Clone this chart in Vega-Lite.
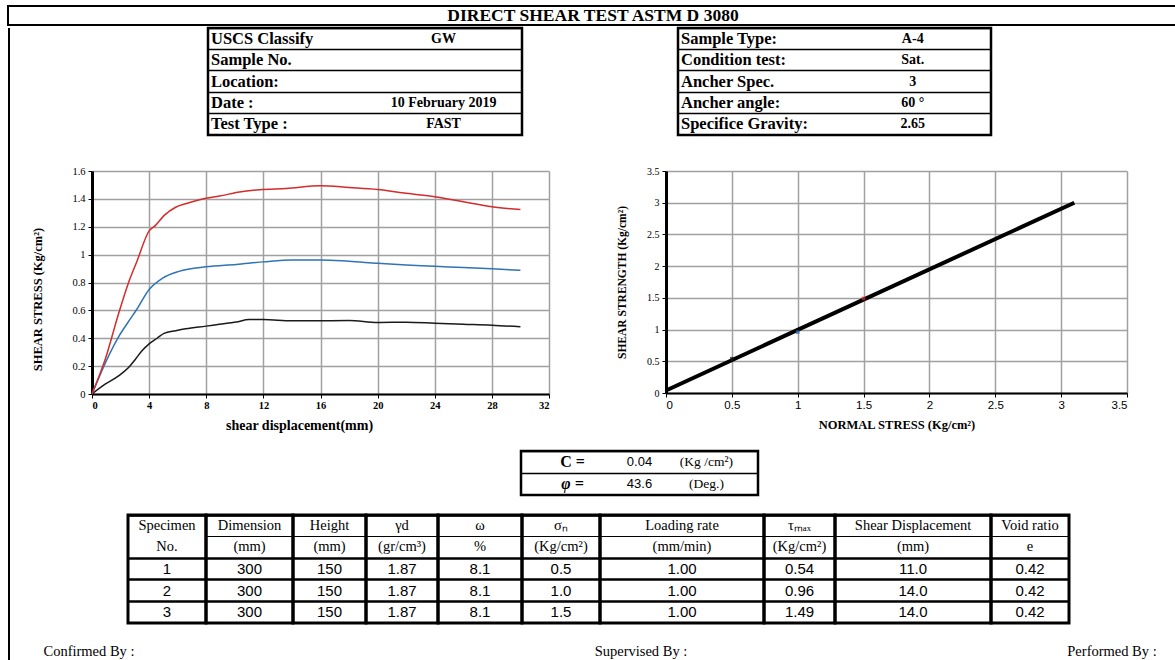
{
"$schema": "https://vega.github.io/schema/vega-lite/v6.json",
"padding": {"left": 7, "top": 5, "right": 0, "bottom": 0},
"background": "white",
"bounds": "full",
"config": {
  "view": {"stroke": null},
  "concat": {"spacing": 0},
  "scale": {"bandPaddingInner": 0, "bandPaddingOuter": 0}
},
"datasets": {
  "curves": [
    {"sn": "0.5", "d": 0, "s": 0}, {"sn": "0.5", "d": 0.92, "s": 0.07}, {"sn": "0.5", "d": 1.86, "s": 0.13}, {"sn": "0.5", "d": 2.56, "s": 0.19}, {"sn": "0.5", "d": 3.04, "s": 0.25}, {"sn": "0.5", "d": 3.5, "s": 0.31}, {"sn": "0.5", "d": 4.0, "s": 0.36}, {"sn": "0.5", "d": 4.56, "s": 0.40}, {"sn": "0.5", "d": 5.04, "s": 0.435}, {"sn": "0.5", "d": 5.86, "s": 0.454}, {"sn": "0.5", "d": 6.56, "s": 0.468}, {"sn": "0.5", "d": 7.98, "s": 0.487}, {"sn": "0.5", "d": 8.92, "s": 0.50}, {"sn": "0.5", "d": 10.1, "s": 0.516}, {"sn": "0.5", "d": 11, "s": 0.534}, {"sn": "0.5", "d": 12, "s": 0.534}, {"sn": "0.5", "d": 14, "s": 0.525}, {"sn": "0.5", "d": 16, "s": 0.526}, {"sn": "0.5", "d": 18, "s": 0.527}, {"sn": "0.5", "d": 20, "s": 0.513}, {"sn": "0.5", "d": 22, "s": 0.515}, {"sn": "0.5", "d": 24, "s": 0.508}, {"sn": "0.5", "d": 26, "s": 0.501}, {"sn": "0.5", "d": 28, "s": 0.494}, {"sn": "0.5", "d": 30, "s": 0.482},
    {"sn": "1.0", "d": 0, "s": 0}, {"sn": "1.0", "d": 1.15, "s": 0.27}, {"sn": "1.0", "d": 1.86, "s": 0.41}, {"sn": "1.0", "d": 2.56, "s": 0.52}, {"sn": "1.0", "d": 3.15, "s": 0.61}, {"sn": "1.0", "d": 4.0, "s": 0.75}, {"sn": "1.0", "d": 4.92, "s": 0.83}, {"sn": "1.0", "d": 6.09, "s": 0.88}, {"sn": "1.0", "d": 7.98, "s": 0.913}, {"sn": "1.0", "d": 10.1, "s": 0.93}, {"sn": "1.0", "d": 12, "s": 0.948}, {"sn": "1.0", "d": 14, "s": 0.962}, {"sn": "1.0", "d": 16, "s": 0.962}, {"sn": "1.0", "d": 18, "s": 0.952}, {"sn": "1.0", "d": 20, "s": 0.938}, {"sn": "1.0", "d": 22, "s": 0.926}, {"sn": "1.0", "d": 24, "s": 0.917}, {"sn": "1.0", "d": 26, "s": 0.907}, {"sn": "1.0", "d": 28, "s": 0.898}, {"sn": "1.0", "d": 30, "s": 0.888},
    {"sn": "1.5", "d": 0, "s": 0}, {"sn": "1.5", "d": 0.92, "s": 0.247}, {"sn": "1.5", "d": 1.86, "s": 0.576}, {"sn": "1.5", "d": 2.52, "s": 0.788}, {"sn": "1.5", "d": 3.15, "s": 0.953}, {"sn": "1.5", "d": 4.0, "s": 1.17}, {"sn": "1.5", "d": 4.45, "s": 1.21}, {"sn": "1.5", "d": 5.04, "s": 1.28}, {"sn": "1.5", "d": 5.86, "s": 1.34}, {"sn": "1.5", "d": 6.56, "s": 1.365}, {"sn": "1.5", "d": 7.98, "s": 1.405}, {"sn": "1.5", "d": 8.92, "s": 1.42}, {"sn": "1.5", "d": 10.33, "s": 1.45}, {"sn": "1.5", "d": 11.74, "s": 1.466}, {"sn": "1.5", "d": 13.6, "s": 1.475}, {"sn": "1.5", "d": 16, "s": 1.494}, {"sn": "1.5", "d": 18, "s": 1.482}, {"sn": "1.5", "d": 20, "s": 1.468}, {"sn": "1.5", "d": 22, "s": 1.44}, {"sn": "1.5", "d": 24, "s": 1.416}, {"sn": "1.5", "d": 26, "s": 1.38}, {"sn": "1.5", "d": 28, "s": 1.344}, {"sn": "1.5", "d": 30, "s": 1.323}
  ],
  "fit": [{"n": 0, "t": 0.04}, {"n": 3.1, "t": 3.0}],
  "pts": [{"sn": "0.5", "n": 0.5, "t": 0.54}, {"sn": "1.0", "n": 1.0, "t": 0.96}, {"sn": "1.5", "n": 1.5, "t": 1.49}],
  "infoL": [{"r": 1, "k": "USCS Classify", "v": "GW"}, {"r": 2, "k": "Sample No.", "v": ""}, {"r": 3, "k": "Location:", "v": ""}, {"r": 4, "k": "Date :", "v": "10 February 2019"}, {"r": 5, "k": "Test Type :", "v": "FAST"}],
  "infoR": [{"r": 1, "k": "Sample Type:", "v": "A-4"}, {"r": 2, "k": "Condition test:", "v": "Sat."}, {"r": 3, "k": "Ancher Spec.", "v": "3"}, {"r": 4, "k": "Ancher angle:", "v": "60 °"}, {"r": 5, "k": "Specifice Gravity:", "v": "2.65"}],
  "cphi": [{"r": 1, "sym": "C =", "val": "0.04", "unit": "(Kg /cm²)"}, {"r": 2, "sym": "φ =", "val": "43.6", "unit": "(Deg.)"}],
  "spec": [
    {"c": 1, "r": 1, "t": "Specimen"}, {"c": 1, "r": 2, "t": "No."}, {"c": 1, "r": 3, "t": "1"}, {"c": 1, "r": 4, "t": "2"}, {"c": 1, "r": 5, "t": "3"},
    {"c": 2, "r": 1, "t": "Dimension"}, {"c": 2, "r": 2, "t": "(mm)"}, {"c": 2, "r": 3, "t": "300"}, {"c": 2, "r": 4, "t": "300"}, {"c": 2, "r": 5, "t": "300"},
    {"c": 3, "r": 1, "t": "Height"}, {"c": 3, "r": 2, "t": "(mm)"}, {"c": 3, "r": 3, "t": "150"}, {"c": 3, "r": 4, "t": "150"}, {"c": 3, "r": 5, "t": "150"},
    {"c": 4, "r": 1, "t": "γd"}, {"c": 4, "r": 2, "t": "(gr/cm³)"}, {"c": 4, "r": 3, "t": "1.87"}, {"c": 4, "r": 4, "t": "1.87"}, {"c": 4, "r": 5, "t": "1.87"},
    {"c": 5, "r": 1, "t": "ω"}, {"c": 5, "r": 2, "t": "%"}, {"c": 5, "r": 3, "t": "8.1"}, {"c": 5, "r": 4, "t": "8.1"}, {"c": 5, "r": 5, "t": "8.1"},
    {"c": 6, "r": 1, "t": "σₙ"}, {"c": 6, "r": 2, "t": "(Kg/cm²)"}, {"c": 6, "r": 3, "t": "0.5"}, {"c": 6, "r": 4, "t": "1.0"}, {"c": 6, "r": 5, "t": "1.5"},
    {"c": 7, "r": 1, "t": "Loading rate"}, {"c": 7, "r": 2, "t": "(mm/min)"}, {"c": 7, "r": 3, "t": "1.00"}, {"c": 7, "r": 4, "t": "1.00"}, {"c": 7, "r": 5, "t": "1.00"},
    {"c": 8, "r": 1, "t": "τₘₐₓ"}, {"c": 8, "r": 2, "t": "(Kg/cm²)"}, {"c": 8, "r": 3, "t": "0.54"}, {"c": 8, "r": 4, "t": "0.96"}, {"c": 8, "r": 5, "t": "1.49"},
    {"c": 9, "r": 1, "t": "Shear Displacement"}, {"c": 9, "r": 2, "t": "(mm)"}, {"c": 9, "r": 3, "t": "11.0"}, {"c": 9, "r": 4, "t": "14.0"}, {"c": 9, "r": 5, "t": "14.0"},
    {"c": 10, "r": 1, "t": "Void ratio"}, {"c": 10, "r": 2, "t": "e"}, {"c": 10, "r": 3, "t": "0.42"}, {"c": 10, "r": 4, "t": "0.42"}, {"c": 10, "r": 5, "t": "0.42"}
  ]
},
"vconcat": [
  {"width": 1170, "height": 19, "view": {"stroke": "black", "strokeWidth": 2}, "data": {"values": [{"t": "DIRECT SHEAR TEST ASTM D 3080"}]}, "mark": {"type": "text", "font": "Liberation Serif", "fontWeight": "bold", "fontSize": 17.5}, "encoding": {"text": {"field": "t"}}},
  {"bounds": "full", "hconcat": [
    {"width": 2, "height": 640, "view": {"fill": "black", "stroke": null}, "data": {"values": []}, "mark": "point"},
    {"bounds": "full", "vconcat": [
      {"bounds": "flush", "hconcat": [
        {"width": 198, "height": 1, "data": {"values": []}, "mark": "point"},
        {"width": 314, "height": 107, "view": {"stroke": "black", "strokeWidth": 2.5}, "data": {"name": "infoL"},
         "encoding": {"y": {"field": "r", "type": "ordinal", "title": null, "scale": {"type": "band"}, "axis": {"labels": false, "ticks": false, "domain": false, "grid": true, "gridColor": "black", "gridWidth": 1.5, "bandPosition": 0}}},
         "layer": [
           {"mark": {"type": "text", "font": "Liberation Serif", "fontWeight": "bold", "fontSize": 16.5, "align": "left", "dx": 3}, "encoding": {"x": {"datum": "L", "type": "nominal", "scale": {"type": "band", "domain": ["L", "V"]}, "bandPosition": 0, "axis": null}, "text": {"field": "k"}}},
           {"mark": {"type": "text", "font": "Liberation Serif", "fontWeight": "bold", "fontSize": 14}, "encoding": {"x": {"datum": "V", "type": "nominal", "scale": {"type": "band", "domain": ["L", "V"]}, "axis": null}, "text": {"field": "v"}}}
         ]},
        {"width": 156, "height": 1, "data": {"values": []}, "mark": "point"},
        {"width": 313, "height": 107, "view": {"stroke": "black", "strokeWidth": 2.5}, "data": {"name": "infoR"},
         "encoding": {"y": {"field": "r", "type": "ordinal", "title": null, "scale": {"type": "band"}, "axis": {"labels": false, "ticks": false, "domain": false, "grid": true, "gridColor": "black", "gridWidth": 1.5, "bandPosition": 0}}},
         "layer": [
           {"mark": {"type": "text", "font": "Liberation Serif", "fontWeight": "bold", "fontSize": 16.5, "align": "left", "dx": 3}, "encoding": {"x": {"datum": "L", "type": "nominal", "scale": {"type": "band", "domain": ["L", "V"]}, "bandPosition": 0, "axis": null}, "text": {"field": "k"}}},
           {"mark": {"type": "text", "font": "Liberation Serif", "fontWeight": "bold", "fontSize": 14}, "encoding": {"x": {"datum": "V", "type": "nominal", "scale": {"type": "band", "domain": ["L", "V"]}, "axis": null}, "text": {"field": "v"}}}
         ]}
      ]},
      {"width": 1, "height": 29, "data": {"values": []}, "mark": "point"},
      {"bounds": "flush", "hconcat": [
        {"width": 82, "height": 1, "data": {"values": []}, "mark": "point"},
        {"width": 457, "height": 223, "data": {"name": "curves"},
         "mark": {"type": "line", "strokeWidth": 1.5, "interpolate": "monotone"},
         "encoding": {
           "x": {"field": "d", "type": "quantitative", "scale": {"domain": [0, 32], "nice": false},
                 "axis": {"values": [0, 4, 8, 12, 16, 20, 24, 28, 32], "title": "shear displacement(mm)", "titleFont": "Liberation Serif", "titleFontWeight": "bold", "titleFontSize": 14, "titlePadding": 8, "titleX": 207, "labelFont": "Liberation Serif", "labelFontSize": 10.5, "labelFontWeight": "bold", "labelColor": "black", "grid": true, "gridColor": "#a0a0a0", "gridWidth": 1.5, "domainColor": "black", "domainWidth": 2, "tickColor": "black", "tickSize": 4, "labelPadding": 2}},
           "y": {"field": "s", "type": "quantitative", "scale": {"domain": [0, 1.6], "nice": false},
                 "axis": {"values": [0, 0.2, 0.4, 0.6, 0.8, 1, 1.2, 1.4, 1.6], "format": "~g", "title": "SHEAR STRESS   (Kg/cm²)", "titleFont": "Liberation Serif", "titleFontWeight": "bold", "titleFontSize": 12.5, "titlePadding": 27, "titleY": 128, "labelFont": "Liberation Serif", "labelFontSize": 10.5, "labelColor": "black", "grid": true, "gridColor": "#a0a0a0", "gridWidth": 1.5, "domainColor": "black", "domainWidth": 3, "tickColor": "black", "tickSize": 4, "labelPadding": 3}},
           "color": {"field": "sn", "type": "nominal", "scale": {"domain": ["0.5", "1.0", "1.5"], "range": ["#1a1a1a", "#2f74b5", "#d42b2b"]}, "legend": null}
         }},
        {"width": 117, "height": 1, "data": {"values": []}, "mark": "point"},
        {"width": 461, "height": 222,
         "encoding": {
           "x": {"field": "n", "type": "quantitative", "scale": {"domain": [0, 3.5], "nice": false},
                 "axis": {"values": [0, 0.5, 1, 1.5, 2, 2.5, 3, 3.5], "format": "~g", "title": "NORMAL STRESS    (Kg/cm²)", "titleFont": "Liberation Serif", "titleFontWeight": "bold", "titleFontSize": 12.5, "titlePadding": 8, "labelFont": "Liberation Sans", "labelFontSize": 11.5, "labelColor": "black", "grid": true, "gridColor": "#a0a0a0", "gridWidth": 1.5, "domainColor": "black", "domainWidth": 2, "tickColor": "black", "tickSize": 4, "labelPadding": 2}},
           "y": {"field": "t", "type": "quantitative", "scale": {"domain": [0, 3.5], "nice": false},
                 "axis": {"values": [0, 0.5, 1, 1.5, 2, 2.5, 3, 3.5], "format": "~g", "title": "SHEAR STRENGTH   (Kg/cm²)", "titleFont": "Liberation Serif", "titleFontWeight": "bold", "titleFontSize": 11.5, "titlePadding": 19, "labelFont": "Liberation Serif", "labelFontSize": 10, "labelColor": "black", "grid": true, "gridColor": "#a0a0a0", "gridWidth": 1.5, "domainColor": "black", "domainWidth": 3, "tickColor": "black", "tickSize": 4, "labelPadding": 3}}
         },
         "layer": [
           {"data": {"name": "fit"}, "mark": {"type": "line", "color": "black", "strokeWidth": 4}},
           {"data": {"name": "pts"}, "mark": {"type": "point", "filled": true, "size": 14, "shape": "square"}, "encoding": {"color": {"field": "sn", "type": "nominal", "scale": {"domain": ["0.5", "1.0", "1.5"], "range": ["#1f3f7a", "#2f74b5", "#d42b2b"]}, "legend": null}}}
         ]}
      ]},
      {"width": 1, "height": 16, "data": {"values": []}, "mark": "point"},
      {"bounds": "flush", "hconcat": [
        {"width": 511, "height": 1, "data": {"values": []}, "mark": "point"},
        {"width": 237, "height": 44, "view": {"stroke": "black", "strokeWidth": 2.5}, "data": {"name": "cphi"},
         "encoding": {"y": {"field": "r", "type": "ordinal", "title": null, "scale": {"type": "band"}, "axis": {"labels": false, "ticks": false, "domain": false, "grid": true, "gridColor": "black", "gridWidth": 1.5, "bandPosition": 0}}},
         "layer": [
           {"transform": [{"filter": "datum.r == 1"}], "mark": {"type": "text", "font": "Liberation Serif", "fontWeight": "bold", "fontSize": 16}, "encoding": {"x": {"datum": "a", "type": "nominal", "scale": {"type": "band", "domain": ["a", "b", "c"], "paddingOuter": 0.27}, "axis": null}, "text": {"field": "sym"}}},
           {"transform": [{"filter": "datum.r == 2"}], "mark": {"type": "text", "font": "Liberation Serif", "fontWeight": "bold", "fontStyle": "italic", "fontSize": 16}, "encoding": {"x": {"datum": "a", "type": "nominal", "scale": {"type": "band", "domain": ["a", "b", "c"], "paddingOuter": 0.27}, "axis": null}, "text": {"field": "sym"}}},
           {"mark": {"type": "text", "font": "Liberation Sans", "fontSize": 13}, "encoding": {"x": {"datum": "b", "type": "nominal", "scale": {"type": "band", "domain": ["a", "b", "c"], "paddingOuter": 0.27}, "axis": null}, "text": {"field": "val"}}},
           {"mark": {"type": "text", "font": "Liberation Serif", "fontSize": 13.5}, "encoding": {"x": {"datum": "c", "type": "nominal", "scale": {"type": "band", "domain": ["a", "b", "c"], "paddingOuter": 0.27}, "axis": null}, "text": {"field": "unit"}}}
         ]}
      ]},
      {"width": 1, "height": 16, "data": {"values": []}, "mark": "point"},
      {"bounds": "flush", "hconcat": [
        {"width": 118, "height": 1, "data": {"values": []}, "mark": "point"},
        {"width": 78, "height": 108, "view": {"stroke": "black", "strokeWidth": 3}, "data": {"name": "spec"}, "transform": [{"filter": "datum.c == 1"}],
         "encoding": {"y": {"field": "r", "type": "ordinal", "title": null, "scale": {"type": "band"}, "axis": {"values": [1, 3, 4, 5], "labels": false, "ticks": false, "domain": false, "grid": true, "gridColor": "black", "gridWidth": 2.5, "bandPosition": 0}}},
         "layer": [
           {"transform": [{"filter": "datum.r <= 2"}], "mark": {"type": "text", "font": "Liberation Serif", "fontSize": 14.5}, "encoding": {"text": {"field": "t"}}},
           {"transform": [{"filter": "datum.r > 2"}], "mark": {"type": "text", "font": "Liberation Sans", "fontSize": 15}, "encoding": {"text": {"field": "t"}}}
         ]},
        {"width": 87, "height": 108, "view": {"stroke": "black", "strokeWidth": 3}, "data": {"name": "spec"}, "transform": [{"filter": "datum.c == 2"}],
         "encoding": {"y": {"field": "r", "type": "ordinal", "title": null, "scale": {"type": "band"}, "axis": {"labels": false, "ticks": false, "domain": false, "grid": true, "gridColor": "black", "gridWidth": {"condition": {"test": "datum.value == 2", "value": 1}, "value": 2.5}, "bandPosition": 0}}},
         "layer": [
           {"transform": [{"filter": "datum.r <= 2"}], "mark": {"type": "text", "font": "Liberation Serif", "fontSize": 14.5}, "encoding": {"text": {"field": "t"}}},
           {"transform": [{"filter": "datum.r > 2"}], "mark": {"type": "text", "font": "Liberation Sans", "fontSize": 15}, "encoding": {"text": {"field": "t"}}}
         ]},
        {"width": 73, "height": 108, "view": {"stroke": "black", "strokeWidth": 3}, "data": {"name": "spec"}, "transform": [{"filter": "datum.c == 3"}],
         "encoding": {"y": {"field": "r", "type": "ordinal", "title": null, "scale": {"type": "band"}, "axis": {"labels": false, "ticks": false, "domain": false, "grid": true, "gridColor": "black", "gridWidth": {"condition": {"test": "datum.value == 2", "value": 1}, "value": 2.5}, "bandPosition": 0}}},
         "layer": [
           {"transform": [{"filter": "datum.r <= 2"}], "mark": {"type": "text", "font": "Liberation Serif", "fontSize": 14.5}, "encoding": {"text": {"field": "t"}}},
           {"transform": [{"filter": "datum.r > 2"}], "mark": {"type": "text", "font": "Liberation Sans", "fontSize": 15}, "encoding": {"text": {"field": "t"}}}
         ]},
        {"width": 72, "height": 108, "view": {"stroke": "black", "strokeWidth": 3}, "data": {"name": "spec"}, "transform": [{"filter": "datum.c == 4"}],
         "encoding": {"y": {"field": "r", "type": "ordinal", "title": null, "scale": {"type": "band"}, "axis": {"labels": false, "ticks": false, "domain": false, "grid": true, "gridColor": "black", "gridWidth": {"condition": {"test": "datum.value == 2", "value": 1}, "value": 2.5}, "bandPosition": 0}}},
         "layer": [
           {"transform": [{"filter": "datum.r <= 2"}], "mark": {"type": "text", "font": "Liberation Serif", "fontSize": 14.5}, "encoding": {"text": {"field": "t"}}},
           {"transform": [{"filter": "datum.r > 2"}], "mark": {"type": "text", "font": "Liberation Sans", "fontSize": 15}, "encoding": {"text": {"field": "t"}}}
         ]},
        {"width": 84, "height": 108, "view": {"stroke": "black", "strokeWidth": 3}, "data": {"name": "spec"}, "transform": [{"filter": "datum.c == 5"}],
         "encoding": {"y": {"field": "r", "type": "ordinal", "title": null, "scale": {"type": "band"}, "axis": {"labels": false, "ticks": false, "domain": false, "grid": true, "gridColor": "black", "gridWidth": {"condition": {"test": "datum.value == 2", "value": 1}, "value": 2.5}, "bandPosition": 0}}},
         "layer": [
           {"transform": [{"filter": "datum.r <= 2"}], "mark": {"type": "text", "font": "Liberation Serif", "fontSize": 14.5}, "encoding": {"text": {"field": "t"}}},
           {"transform": [{"filter": "datum.r > 2"}], "mark": {"type": "text", "font": "Liberation Sans", "fontSize": 15}, "encoding": {"text": {"field": "t"}}}
         ]},
        {"width": 78, "height": 108, "view": {"stroke": "black", "strokeWidth": 3}, "data": {"name": "spec"}, "transform": [{"filter": "datum.c == 6"}],
         "encoding": {"y": {"field": "r", "type": "ordinal", "title": null, "scale": {"type": "band"}, "axis": {"labels": false, "ticks": false, "domain": false, "grid": true, "gridColor": "black", "gridWidth": {"condition": {"test": "datum.value == 2", "value": 1}, "value": 2.5}, "bandPosition": 0}}},
         "layer": [
           {"transform": [{"filter": "datum.r <= 2"}], "mark": {"type": "text", "font": "Liberation Serif", "fontSize": 14.5}, "encoding": {"text": {"field": "t"}}},
           {"transform": [{"filter": "datum.r > 2"}], "mark": {"type": "text", "font": "Liberation Sans", "fontSize": 15}, "encoding": {"text": {"field": "t"}}}
         ]},
        {"width": 164, "height": 108, "view": {"stroke": "black", "strokeWidth": 3}, "data": {"name": "spec"}, "transform": [{"filter": "datum.c == 7"}],
         "encoding": {"y": {"field": "r", "type": "ordinal", "title": null, "scale": {"type": "band"}, "axis": {"labels": false, "ticks": false, "domain": false, "grid": true, "gridColor": "black", "gridWidth": {"condition": {"test": "datum.value == 2", "value": 1}, "value": 2.5}, "bandPosition": 0}}},
         "layer": [
           {"transform": [{"filter": "datum.r <= 2"}], "mark": {"type": "text", "font": "Liberation Serif", "fontSize": 14.5}, "encoding": {"text": {"field": "t"}}},
           {"transform": [{"filter": "datum.r > 2"}], "mark": {"type": "text", "font": "Liberation Sans", "fontSize": 15}, "encoding": {"text": {"field": "t"}}}
         ]},
        {"width": 71, "height": 108, "view": {"stroke": "black", "strokeWidth": 3}, "data": {"name": "spec"}, "transform": [{"filter": "datum.c == 8"}],
         "encoding": {"y": {"field": "r", "type": "ordinal", "title": null, "scale": {"type": "band"}, "axis": {"labels": false, "ticks": false, "domain": false, "grid": true, "gridColor": "black", "gridWidth": {"condition": {"test": "datum.value == 2", "value": 1}, "value": 2.5}, "bandPosition": 0}}},
         "layer": [
           {"transform": [{"filter": "datum.r <= 2"}], "mark": {"type": "text", "font": "Liberation Serif", "fontSize": 14.5}, "encoding": {"text": {"field": "t"}}},
           {"transform": [{"filter": "datum.r > 2"}], "mark": {"type": "text", "font": "Liberation Sans", "fontSize": 15}, "encoding": {"text": {"field": "t"}}}
         ]},
        {"width": 156, "height": 108, "view": {"stroke": "black", "strokeWidth": 3}, "data": {"name": "spec"}, "transform": [{"filter": "datum.c == 9"}],
         "encoding": {"y": {"field": "r", "type": "ordinal", "title": null, "scale": {"type": "band"}, "axis": {"labels": false, "ticks": false, "domain": false, "grid": true, "gridColor": "black", "gridWidth": {"condition": {"test": "datum.value == 2", "value": 1}, "value": 2.5}, "bandPosition": 0}}},
         "layer": [
           {"transform": [{"filter": "datum.r <= 2"}], "mark": {"type": "text", "font": "Liberation Serif", "fontSize": 14.5}, "encoding": {"text": {"field": "t"}}},
           {"transform": [{"filter": "datum.r > 2"}], "mark": {"type": "text", "font": "Liberation Sans", "fontSize": 15}, "encoding": {"text": {"field": "t"}}}
         ]},
        {"width": 78, "height": 108, "view": {"stroke": "black", "strokeWidth": 3}, "data": {"name": "spec"}, "transform": [{"filter": "datum.c == 10"}],
         "encoding": {"y": {"field": "r", "type": "ordinal", "title": null, "scale": {"type": "band"}, "axis": {"labels": false, "ticks": false, "domain": false, "grid": true, "gridColor": "black", "gridWidth": {"condition": {"test": "datum.value == 2", "value": 1}, "value": 2.5}, "bandPosition": 0}}},
         "layer": [
           {"transform": [{"filter": "datum.r <= 2"}], "mark": {"type": "text", "font": "Liberation Serif", "fontSize": 14.5}, "encoding": {"text": {"field": "t"}}},
           {"transform": [{"filter": "datum.r > 2"}], "mark": {"type": "text", "font": "Liberation Sans", "fontSize": 15}, "encoding": {"text": {"field": "t"}}}
         ]}
      ]},
      {"width": 1, "height": 17, "data": {"values": []}, "mark": "point"},
      {"bounds": "flush", "hconcat": [
        {"width": 29, "height": 1, "data": {"values": []}, "mark": "point"},
        {"width": 100, "height": 20, "data": {"values": [{"t": "Confirmed By :"}]}, "mark": {"type": "text", "font": "Liberation Serif", "fontSize": 14.5}, "encoding": {"text": {"field": "t"}}},
        {"width": 452, "height": 1, "data": {"values": []}, "mark": "point"},
        {"width": 100, "height": 20, "data": {"values": [{"t": "Supervised By :"}]}, "mark": {"type": "text", "font": "Liberation Serif", "fontSize": 14.5}, "encoding": {"text": {"field": "t"}}},
        {"width": 371, "height": 1, "data": {"values": []}, "mark": "point"},
        {"width": 100, "height": 20, "data": {"values": [{"t": "Performed By :"}]}, "mark": {"type": "text", "font": "Liberation Serif", "fontSize": 14.5}, "encoding": {"text": {"field": "t"}}}
      ]}
    ]}
  ]}
]
}
